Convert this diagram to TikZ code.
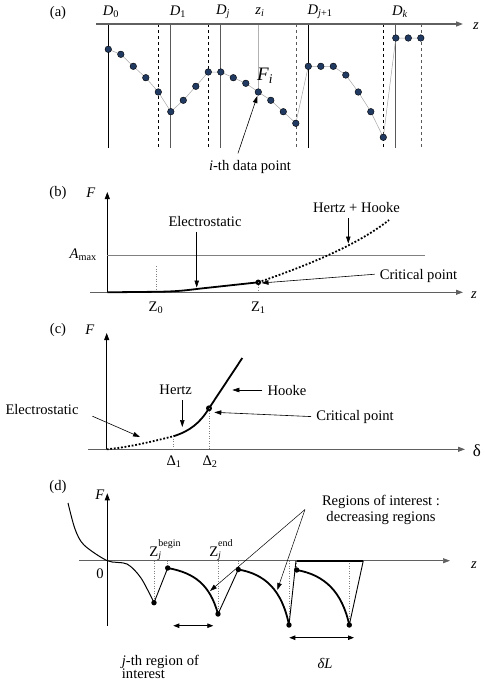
\documentclass[tikz,border=0pt]{standalone}
\usepackage{fontspec}
\setmainfont{Liberation Serif}
\usepackage{tikz}
\usetikzlibrary{positioning}
\usetikzlibrary{arrows.meta}

\definecolor{dotblue}{RGB}{33,58,98}
\newcommand{\zlab}[1]{Z\rlap{\raisebox{-2pt}{\fontsize{10}{10}\selectfont\textit{j}}}\raisebox{9.5pt}{\fontsize{10}{10}\selectfont #1}}
\tikzset{
  axisline/.style={gray!75!black, line width=1pt, -{Triangle[length=7pt,width=5pt]}},
  yaxisline/.style={black, line width=0.8pt, -{Triangle[length=7pt,width=5pt]}},
  callout/.style={black, line width=0.6pt, shorten <=3pt, -{Triangle[length=7pt,width=4.5pt]}},
  dblarrow/.style={black, line width=0.8pt, {Triangle[length=6pt,width=4.5pt]}-{Triangle[length=6pt,width=4.5pt]}},
  fitcurve/.style={black, line width=1.8pt},
  dotcurve/.style={black, line width=1.8pt, dash pattern=on 1.8pt off 1.8pt},
  guide/.style={gray, line width=0.5pt, dotted},
  sepline/.style={line width=0.9pt},
}

\begin{document}
\begin{tikzpicture}[x=1pt, y=-1pt, inner sep=2pt, font=\rmfamily\fontsize{14.6}{17}\selectfont]
\useasboundingbox (0,0) rectangle (485,681);

%%%% (a) data points
\node (pa) at (58,13) {(a)};
%vertical lines
\draw[black, sepline] (108.3,24) -- (108.3,148);
\draw[black, dashed] (158.3,24) -- (158.3,148);
\draw[gray!70!black, sepline] (170.8,24) -- (170.8,148);
\draw[black, dashed] (208.3,24) -- (208.3,148);
\draw[gray!70!black, sepline] (220.8,24) -- (220.8,148);
\draw[gray!70!black, dashed] (295.8,24) -- (295.8,148);
\draw[black, sepline] (308.3,24) -- (308.3,148);
\draw[black, dashed] (383.3,24) -- (383.3,148);
\draw[gray!70!black, sepline] (395.8,24) -- (395.8,148);
\draw[gray!70!black, dashed] (420.8,24) -- (420.8,148);
\draw[gray!60, line width=0.5pt] (258.3,24) -- (258.3,92); %z_i
%axis
\draw[axisline, line width=1.3pt] (96,24) -- (463,24);
\node (za) at (476,26) {\textit{z}};
%labels
\node (dzero) at (111,12) {\textit{D}\textsubscript{0}};
\node (done) at (178,12) {\textit{D}\textsubscript{1}};
\node (dj) at (223,12) {\textit{D}\textsubscript{\textit{j}}};
\node (zi) at (260,12) {\textit{z}\textsubscript{\textit{i}}};
\node (djp) at (320,12) {\textit{D}\textsubscript{\textit{j}+1}};
\node (dk) at (400,12) {\textit{D}\textsubscript{\textit{k}}};
%data
\draw[gray!70, line width=0.5pt] plot[mark=*, mark size=3.3pt, mark options={fill=dotblue, draw=black, line width=0.4pt}] coordinates {
  (108.3,49.3) (120.8,54.3) (133.3,66.3) (145.8,77.7) (158.3,92) (170.8,111.7)
  (183.3,100.3) (195.8,86.3) (208.3,72) (220.8,72) (233.3,77.7) (245.8,83.3)
  (258.3,92) (270.8,100.3) (283.3,111.7) (295.8,123.3) (308.3,66.3) (320.8,66.3)
  (333.3,66.3) (345.8,75) (358.3,92) (370.8,111.7) (383.3,137.3) (395.8,38)
  (408.3,38) (420.8,38)};
\coordinate (pti) at (258.3,92);
\node[font=\rmfamily\fontsize{19}{22}\selectfont] (fi) at (265,76) {\textit{F}\textsubscript{\textit{i}}};
\node (ith) at (250,167) {\textit{i}-th data point};
\draw[callout] ([xshift=-13pt,yshift=2pt]ith.north) -- ([xshift=-1pt,yshift=-4pt]pti);

%%%% (b) force vs z
\node (pb) at (58,193) {(b)};
\node (fb) at (91,193) {\textit{F}};
\draw[yaxisline] (107.3,292.3) -- (107.3,192);
\draw[axisline] (90,292.3) -- (463,292.3);
\node (zb) at (474,295) {\textit{z}};
\draw[gray, line width=0.5pt] (107.3,255.7) -- (425,255.7); %A max
\node[anchor=east] (amax) at (99,255) {\textit{A}\textsubscript{max}};
\draw[guide] (156,266) -- (156,292.3);
\node (zzero) at (156,308) {Z\textsubscript{0}};
%curve
\draw[fitcurve] (107.3,292.3) -- (156,291.8) .. controls (178,291.5) and (186,290.3) .. (200,288.6) -- (258.3,282.3);
\draw[dotcurve] (258.3,282.3) .. controls (300,268) and (355,247) .. (389,220);
\coordinate (critb) at (258.3,282.3);
\fill (critb) circle (2.8pt);
\draw[guide] (critb) -- (258.3,292.3);
\node (zone) at (258.3,308) {Z\textsubscript{1}};
%labels
\node (elecb) at (205,221.5) {Electrostatic};
\coordinate (elecbtip) at (196.7,287.5);
\draw[callout] (elecb.south -| elecbtip) -- (elecbtip);
\node (hhb) at (356.5,207.7) {Hertz + Hooke};
\coordinate (hhbtip) at (348.3,243.5);
\draw[callout] (hhb.south -| hhbtip) -- (hhbtip);
\node (critlb) at (418.5,276) {Critical point};
\coordinate (critbtip) at (261.5,283);
\draw[callout] ([yshift=2pt]critlb.west) -- (critbtip);

%%%% (c) force vs indentation
\node (pc) at (58,330) {(c)};
\node (fc) at (90,330) {\textit{F}};
\draw[yaxisline] (106.7,449.3) -- (106.7,333);
\draw[axisline] (88,449.3) -- (465,449.3);
\node[font=\rmfamily\fontsize{17}{20}\selectfont] (dlt) at (477,451) {δ};
%curve
\draw[dotcurve] (106.7,449.3) .. controls (130,447) and (150,442) .. (173.3,436.3);
\draw[fitcurve] (173.3,436.3) .. controls (190,431) and (200,423) .. (209,408.3) -- (242.3,358);
\coordinate (critc) at (209,408.3);
\fill (critc) circle (3pt);
\draw[guide] (173.3,436.3) -- (173.3,449.3);
\draw[guide] (critc) -- (209,449.3);
\node (dlone) at (174,462) {Δ\textsubscript{1}};
\node (dltwo) at (210,462) {Δ\textsubscript{2}};
%labels
\node (hertzc) at (175.7,390) {Hertz};
\coordinate (hertztip) at (182.3,427);
\draw[callout] (hertzc.south -| hertztip) -- (hertztip);
\node (hookec) at (287,390) {Hooke};
\coordinate (hooketip) at (232.3,390);
\draw[callout] (hookec.west) -- (hooketip);
\node (critlc) at (355,416.7) {Critical point};
\coordinate (critctip) at (214.3,412.3);
\draw[callout] (critlc.west) -- (critctip);
\node (elecc) at (42,409) {Electrostatic};
\coordinate (elecctip) at (140,437);
\draw[callout] ([xshift=9pt,yshift=-6pt]elecc.east) -- (elecctip);

%%%% (d) regions of interest
\node (pd) at (58,487) {(d)};
\node (fd) at (100,495) {\textit{F}};
\draw[yaxisline] (107.3,625.7) -- (107.3,493.3);
\draw[axisline, line width=0.7pt] (79.3,560.7) -- (450,560.7);
\node (zd) at (474,565) {\textit{z}};
\node (zero) at (100,573.3) {0};
\coordinate (zaxis) at (0,560.7);
%points
\coordinate (mina) at (154,602.7);
\coordinate (begj) at (167.7,568);
\coordinate (endj) at (218,614);
\coordinate (begb) at (238.3,569.5);
\coordinate (endb) at (289,625);
\coordinate (begc) at (296.7,570);
\coordinate (endc) at (349.3,625);
%guides
\draw[guide] (mina |- zaxis) -- (mina);
\draw[guide] (begj |- zaxis) -- (begj);
\draw[guide] (endj |- zaxis) -- (endj);
\draw[guide] (begb |- zaxis) -- (begb);
\draw[guide] (endb |- zaxis) -- (endb);
\draw[guide] (begc |- zaxis) -- (begc);
\draw[guide] (endc |- zaxis) -- (endc);
%curve
\draw[black, line width=1pt] plot[smooth] coordinates {(68,503) (75,529) (84,545) (107.3,560.7) (127,564) (141,578) (154,602.7)};
\draw[black, line width=0.9pt] (mina) -- (begj);
\draw[black, line width=0.9pt] (endj) -- (begb);
\draw[black, line width=0.9pt] (endb) -- (296,560.7);
\draw[black, line width=1.6pt] (296.7,560.7) -- (363.3,560.7);
\draw[black, line width=0.9pt] (363.3,560.7) -- (endc);
\draw[fitcurve] (begj) .. controls (195,573) and (210,585) .. (endj);
\draw[fitcurve] (begb) .. controls (265,574) and (282,590) .. (endb);
\draw[fitcurve] (begc) .. controls (325,575) and (342,592) .. (endc);
\foreach \p in {mina,begj,endj,begb,endb,begc,endc}
  \fill (\p) circle (2.7pt);
%labels
\node[anchor=base] (zbeg) at (165,556) {\zlab{begin}};
\node[anchor=base] (zend) at (221,556) {\zlab{end}};
\node[anchor=base] (roia) at (381,505) {Regions of interest :};
\node[anchor=base] (roib) at (381,521) {decreasing regions};
\coordinate (roiapex) at (305,509.5);
\coordinate (roitipa) at (210,591);
\coordinate (roitipb) at (277.3,590);
\draw[callout, shorten <=0pt, line width=0.5pt] (roiapex) -- (roitipa);
\draw[callout, shorten <=0pt, line width=0.5pt] (roiapex) -- (roitipb);
\coordinate (jleft) at (173.3,625.7);
\coordinate (jright) at (213.3,625.7);
\draw[dblarrow] (jleft) -- (jright);
\coordinate (dlleft) at (289.3,637.7);
\coordinate (dlright) at (354,637.7);
\draw[dblarrow] (dlleft) -- (dlright);
\node[anchor=base west, inner sep=0pt] (jrega) at (121.7,665) {\textit{j}-th region of};
\node[anchor=base west, inner sep=0pt] (jregb) at (121.7,678.5) {interest};
\node (dl) at (325,663) {\textit{δL}};

\end{tikzpicture}
\end{document}
